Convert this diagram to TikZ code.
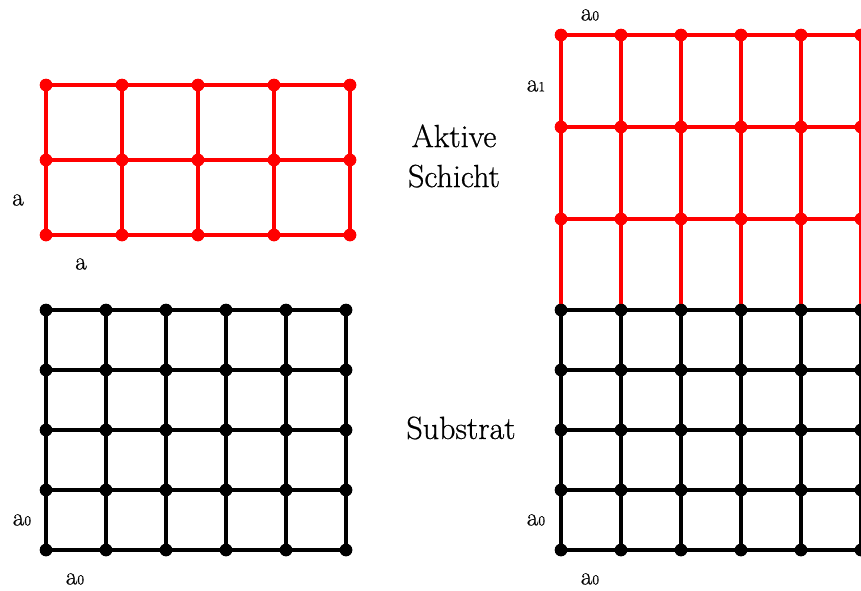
\documentclass[tikz,border=0pt]{standalone}
\usepackage{fontspec}
\newfontfamily\labelfont{Latin Modern Roman}[FakeBold=0.7]
\usetikzlibrary{positioning}
\definecolor{layer}{RGB}{255,0,0}
\definecolor{substrate}{RGB}{0,0,0}
\newcommand{\latconst}[1]{a{\fontsize{14}{14}\selectfont #1}}
\tikzset{
    redatom/.style={
        circle,
        fill=layer,
        inner sep=0pt,
        minimum size=12.5pt
    },
    blackatom/.style={
        circle,
        fill=substrate,
        inner sep=0pt,
        minimum size=12.5pt
    },
    redbond/.style={
        draw=layer,
        line width=3.2pt
    },
    blackbond/.style={
        draw=substrate,
        line width=4pt
    },
    layertext/.style={
        font=\labelfont\fontsize{32}{40}\selectfont,
        align=center
    },
    latlabel/.style={
        font=\labelfont\fontsize{25}{25}\selectfont,
        inner sep=0pt
    }
}

\begin{document}
\begin{tikzpicture}[x=1pt, y=-1pt]
    \useasboundingbox (0,0) rectangle (861,590);
    \clip (0,0) rectangle (861,590);

    % Left: free active layer
    \foreach \i in {0,...,4} {
        \foreach \j in {0,...,2} {
            \node[redatom] (lr-\i-\j) at ({46+76*\i},{85+75*\j}) {};
        }
    }
    \foreach \i [count=\ni from 1] in {0,...,3} {
        \foreach \j in {0,...,2} {
            \draw[redbond] (lr-\i-\j.center) -- (lr-\ni-\j.center);
        }
    }
    \foreach \j [count=\nj from 1] in {0,1} {
        \foreach \i in {0,...,4} {
            \draw[redbond] (lr-\i-\j.center) -- (lr-\i-\nj.center);
        }
    }
    \foreach \i in {0,...,4} {
        \foreach \j in {0,...,2} {
            \node[redatom] at (lr-\i-\j) {};
        }
    }

    % Left: substrate
    \foreach \i in {0,...,5} {
        \foreach \j in {0,...,4} {
            \node[blackatom] (lb-\i-\j) at ({46+60*\i},{310+60*\j}) {};
        }
    }
    \foreach \i [count=\ni from 1] in {0,...,4} {
        \foreach \j in {0,...,4} {
            \draw[blackbond] (lb-\i-\j.center) -- (lb-\ni-\j.center);
        }
    }
    \foreach \j [count=\nj from 1] in {0,...,3} {
        \foreach \i in {0,...,5} {
            \draw[blackbond] (lb-\i-\j.center) -- (lb-\i-\nj.center);
        }
    }
    \foreach \i in {0,...,5} {
        \foreach \j in {0,...,4} {
            \node[blackatom] at (lb-\i-\j) {};
        }
    }

    % Right: strained layer on substrate
    \foreach \i in {0,...,5} {
        \foreach \j/\y in {0/35, 1/127, 2/219} {
            \node[redatom] (rr-\i-\j) at ({561+60*\i},\y) {};
        }
        \foreach \j in {0,...,4} {
            \node[blackatom] (rb-\i-\j) at ({561+60*\i},{310+60*\j}) {};
        }
    }
    \foreach \i [count=\ni from 1] in {0,...,4} {
        \foreach \j in {0,...,2} {
            \draw[redbond] (rr-\i-\j.center) -- (rr-\ni-\j.center);
        }
        \foreach \j in {0,...,4} {
            \draw[blackbond] (rb-\i-\j.center) -- (rb-\ni-\j.center);
        }
    }
    \foreach \i in {0,...,5} {
        \draw[redbond] (rr-\i-0.center) -- (rr-\i-1.center) -- (rr-\i-2.center) -- (rb-\i-0.center);
        \foreach \j [count=\nj from 1] in {0,...,3} {
            \draw[blackbond] (rb-\i-\j.center) -- (rb-\i-\nj.center);
        }
    }
    \foreach \i in {0,...,5} {
        \foreach \j in {0,...,2} {
            \node[redatom] at (rr-\i-\j) {};
        }
        \foreach \j in {0,...,4} {
            \node[blackatom] at (rb-\i-\j) {};
        }
    }

    % Labels
    \node[latlabel] (la-side) at (18,200) {a};
    \node[latlabel] (la-bottom) at (81,264) {a};
    \node[latlabel] (lb-side) at (22,520) {\latconst{0}};
    \node[latlabel] (lb-bottom) at (75,579) {\latconst{0}};
    \node[latlabel] (ra-top) at (590,15) {\latconst{0}};
    \node[latlabel] (ra-side) at (536,86) {\latconst{1}};
    \node[latlabel] (rb-side) at (536,520) {\latconst{0}};
    \node[latlabel] (rb-bottom) at (590,579) {\latconst{0}};

    \node[layertext] (active) at (454,156) {Aktive\\Schicht};
    \node[layertext] (substr) at (461,428) {Substrat};
\end{tikzpicture}
\end{document}
